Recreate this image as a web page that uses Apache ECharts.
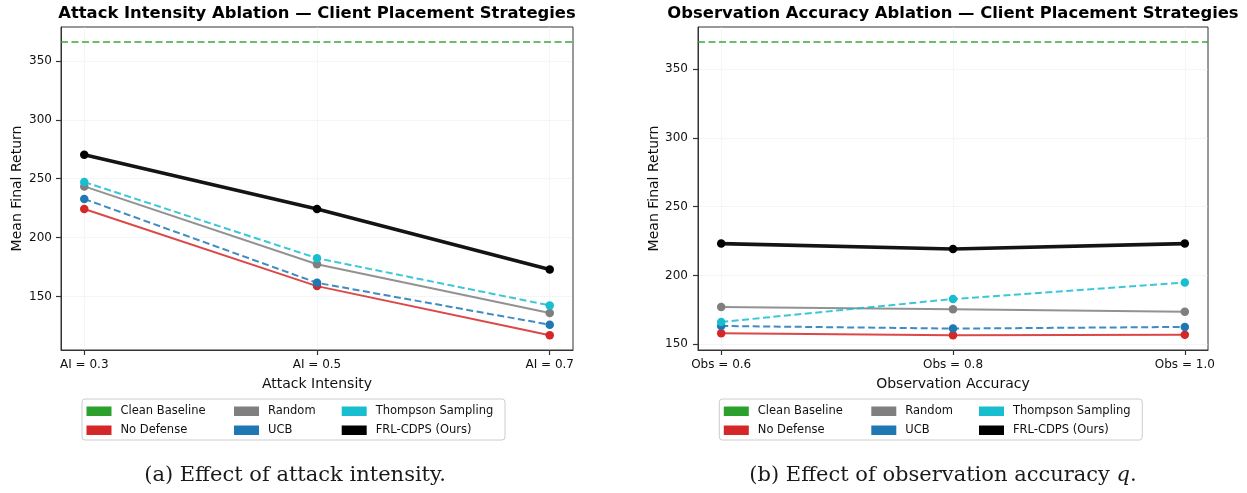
<!DOCTYPE html>
<html>
<head>
<meta charset="utf-8">
<script src="https://cdn.jsdelivr.net/npm/echarts@6/dist/echarts.min.js"></script>
<style>
  html, body { margin: 0; padding: 0; background: #fff; }
  #chart { width: 1247px; height: 493px; }
</style>
</head>
<body>
<div id="chart"></div>
<script>
// Attack-intensity sweep
const aiCategories = ['AI = 0.3', 'AI = 0.5', 'AI = 0.7'];
const aiNoDefense = [224.3, 158.8, 117.0];
const aiRandom = [243.5, 177.4, 135.9];
const aiUCB = [232.8, 161.6, 126.0];
const aiThompson = [247.2, 182.5, 142.4];
const aiFRL = [270.3, 224.3, 172.9];
const aiClean = 366.4;

// Observation-accuracy sweep
const obsCategories = ['Obs = 0.6', 'Obs = 0.8', 'Obs = 1.0'];
const obsNoDefense = [158.0, 156.5, 157.0];
const obsRandom = [177.1, 175.4, 173.7];
const obsUCB = [163.3, 161.4, 162.6];
const obsThompson = [166.2, 182.9, 194.9];
const obsFRL = [223.2, 219.3, 223.2];
const obsClean = 370.0;

const yTickValues = [150, 200, 250, 300, 350];
const xTickValues = [0, 1, 2];

const FONT = 'DejaVu Sans';
const COLORS = {
  clean: '#2ca02c',
  none: '#d62728',
  random: '#7f7f7f',
  ucb: '#1f77b4',
  ts: '#17becf',
  frl: '#000000'
};
const X_MIN = -0.1, X_MAX = 2.1;

// y range with a 5% margin around all plotted values (baseline included)
function yRange(arrays, clean) {
  const all = [].concat(...arrays, [clean]);
  const lo = Math.min(...all), hi = Math.max(...all);
  const pad = 0.05 * (hi - lo);
  return [lo - pad, hi + pad];
}

function pairs(values) {
  return values.map((v, i) => [i, v]);
}

const spineLine = { show: true, onZero: false, lineStyle: { color: '#333', width: 1 } };
const gridLine = { show: true, lineStyle: { color: '#e6e6e6', type: 'dotted', width: 0.8 } };
const tickLine = { color: '#333', width: 1.2 };

function makeAxes(idx, cats, range, xName, yNameGap, yLabelMargin) {
  const xAxis = {
    gridIndex: idx, type: 'value', min: X_MIN, max: X_MAX,
    name: xName, nameLocation: 'middle', nameGap: 27,
    nameTextStyle: { fontFamily: FONT, fontSize: 14, color: '#111' },
    axisLine: spineLine,
    axisTick: { show: true, inside: false, length: 5, lineStyle: tickLine, customValues: xTickValues },
    axisLabel: {
      customValues: xTickValues, fontFamily: FONT, fontSize: 12, color: '#111', margin: 9,
      formatter: v => cats[Math.round(v)]
    },
    splitLine: gridLine
  };
  const yAxis = {
    gridIndex: idx, type: 'value', min: range[0], max: range[1],
    name: 'Mean Final Return', nameLocation: 'middle', nameGap: yNameGap,
    nameTextStyle: { fontFamily: FONT, fontSize: 14, color: '#111' },
    axisLine: spineLine,
    axisTick: { show: true, inside: false, length: 5, lineStyle: tickLine, customValues: yTickValues },
    axisLabel: { customValues: yTickValues, fontFamily: FONT, fontSize: 12, color: '#111', margin: yLabelMargin },
    splitLine: gridLine
  };
  return [xAxis, yAxis];
}

function lineSeries(idx, name, values, color, opts) {
  opts = opts || {};
  return {
    name: name, type: 'line', xAxisIndex: idx, yAxisIndex: idx,
    data: pairs(values),
    symbol: 'circle', symbolSize: opts.symbolSize || 8.5,
    itemStyle: { color: color, borderWidth: 0 },
    lineStyle: { color: color, width: opts.width || 2, type: opts.dash || 'solid', opacity: opts.opacity || 0.85 },
    z: opts.z || 3,
    animation: false
  };
}

function cleanSeries(idx, value) {
  return {
    name: 'Clean Baseline', type: 'line', xAxisIndex: idx, yAxisIndex: idx,
    data: [],
    itemStyle: { color: COLORS.clean },
    lineStyle: { color: COLORS.clean },
    markLine: {
      silent: true, symbol: ['none', 'none'], label: { show: false },
      lineStyle: { color: COLORS.clean, type: [7, 3.5], width: 2, opacity: 0.7 },
      emphasis: { disabled: true },
      data: [{ yAxis: value }]
    },
    animation: false
  };
}

function panelSeries(idx, d) {
  return [
    cleanSeries(idx, d.clean),
    lineSeries(idx, 'No Defense', d.none, COLORS.none, { z: 3 }),
    lineSeries(idx, 'Random', d.random, COLORS.random, { z: 4 }),
    lineSeries(idx, 'UCB', d.ucb, COLORS.ucb, { dash: [7, 3.5], z: 5 }),
    lineSeries(idx, 'Thompson Sampling', d.ts, COLORS.ts, { dash: [7, 3.5], z: 6 }),
    lineSeries(idx, 'FRL-CDPS (Ours)', d.frl, COLORS.frl, { width: 3.6, opacity: 0.92, z: 7 })
  ];
}

// Three two-row legend columns inside one framed box
function legendColumns(boxLeft, top) {
  const cols = [
    ['Clean Baseline', 'No Defense'],
    ['Random', 'UCB'],
    ['Thompson Sampling', 'FRL-CDPS (Ours)']
  ];
  const offsets = [4.5, 152, 259.7];
  return cols.map((names, i) => ({
    data: names,
    orient: 'vertical',
    left: boxLeft + offsets[i],
    top: top,
    padding: 0,
    itemGap: 5.5,
    itemWidth: 25,
    itemHeight: 9.5,
    icon: 'rect',
    selectedMode: false,
    itemStyle: { borderWidth: 0 },
    textStyle: { fontFamily: FONT, fontSize: 11.5, color: '#111', lineHeight: 13.5, padding: [0, 0, 0, 4] }
  }));
}

const leftRange = yRange([aiNoDefense, aiRandom, aiUCB, aiThompson, aiFRL], aiClean);
const rightRange = yRange([obsNoDefense, obsRandom, obsUCB, obsThompson, obsFRL], obsClean);

const [xa0, ya0] = makeAxes(0, aiCategories, leftRange, 'Attack Intensity', 37, 9);
const [xa1, ya1] = makeAxes(1, obsCategories, rightRange, 'Observation Accuracy', 35, 10);

const chart = echarts.init(document.getElementById('chart'), null, { renderer: 'canvas' });

chart.setOption({
  animation: false,
  backgroundColor: '#ffffff',
  grid: [
    { left: 61, top: 27, width: 512, height: 323, show: true, borderColor: '#333', borderWidth: 1, backgroundColor: 'transparent' },
    { left: 698, top: 27, width: 510, height: 323, show: true, borderColor: '#333', borderWidth: 1, backgroundColor: 'transparent' }
  ],
  xAxis: [xa0, xa1],
  yAxis: [ya0, ya1],
  legend: legendColumns(82, 404.5).concat(legendColumns(719.3, 404.5)),
  series: panelSeries(0, { clean: aiClean, none: aiNoDefense, random: aiRandom, ucb: aiUCB, ts: aiThompson, frl: aiFRL })
    .concat(panelSeries(1, { clean: obsClean, none: obsNoDefense, random: obsRandom, ucb: obsUCB, ts: obsThompson, frl: obsFRL })),
  graphic: [
    { type: 'rect', shape: { x: 82, y: 399, width: 423, height: 41, r: 3 }, style: { fill: '#fff', stroke: '#cccccc', lineWidth: 1 }, z: -1, silent: true },
    { type: 'rect', shape: { x: 719.3, y: 399, width: 423, height: 41, r: 3 }, style: { fill: '#fff', stroke: '#cccccc', lineWidth: 1 }, z: -1, silent: true },
    { type: 'text', x: 317, y: 13.5, silent: true,
      style: { text: 'Attack Intensity Ablation — Client Placement Strategies', font: 'bold 16.4px "DejaVu Sans"', fill: '#000', align: 'center', verticalAlign: 'middle' } },
    { type: 'text', x: 953, y: 13.5, silent: true,
      style: { text: 'Observation Accuracy Ablation — Client Placement Strategies', font: 'bold 16.4px "DejaVu Sans"', fill: '#000', align: 'center', verticalAlign: 'middle' } },
    { type: 'text', x: 295, y: 476, silent: true,
      style: { text: '(a) Effect of attack intensity.', font: '21px "DejaVu Serif"', fill: '#1a1a1a', align: 'center', verticalAlign: 'middle' } },
    { type: 'text', x: 943, y: 476, silent: true,
      style: {
        text: '{n|(b) Effect of observation accuracy }{q|q}{n|.}',
        align: 'center', verticalAlign: 'middle',
        rich: {
          n: { fontFamily: 'DejaVu Serif', fontSize: 21, fill: '#1a1a1a' },
          q: { fontFamily: 'DejaVu Serif', fontSize: 21, fontStyle: 'italic', fill: '#1a1a1a' }
        }
      } }
  ]
});
</script>
</body>
</html>
